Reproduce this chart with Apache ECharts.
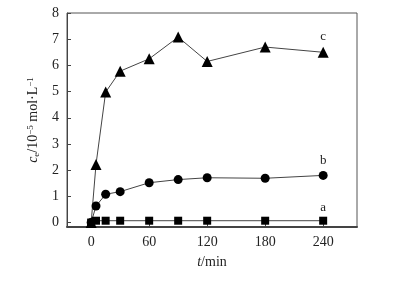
<!DOCTYPE html>
<html>
<head>
<meta charset="utf-8">
<script src="https://cdn.jsdelivr.net/npm/echarts@6/dist/echarts.min.js"></script>
<style>
html,body{margin:0;padding:0;background:#fff;}
#chart{width:393px;height:287px;}
</style>
</head>
<body>
<div id="chart"></div>
<script>
var times = [0, 5, 15, 30, 60, 90, 120, 180, 240];
var seriesA = [0, 0.07, 0.07, 0.07, 0.07, 0.07, 0.07, 0.07, 0.07];
var seriesB = [0, 0.63, 1.08, 1.18, 1.52, 1.64, 1.71, 1.69, 1.80];
var seriesC = [0, 2.22, 4.98, 5.78, 6.25, 7.08, 6.15, 6.70, 6.50];
var xTicks = [0, 60, 120, 180, 240];
var yTicks = [0, 1, 2, 3, 4, 5, 6, 7, 8];
var names = ['a', 'b', 'c'];

var font = 'Liberation Serif';
var ink = '#222';

function pairs(vals, name, dist) {
    return vals.map(function (v, i) {
        var item = { value: [times[i], v] };
        if (i === vals.length - 1) {
            item.label = {
                show: true, position: 'top', distance: dist,
                formatter: name, fontFamily: font, fontSize: 13, color: ink
            };
        }
        return item;
    });
}

function mkSeries(vals, name, symbol, size, dist) {
    return {
        type: 'line',
        name: name,
        data: pairs(vals, name, dist),
        symbol: symbol,
        symbolSize: size,
        showSymbol: true,
        lineStyle: { color: '#444', width: 1 },
        itemStyle: { color: '#000' },
        label: { show: false },
        animation: false
    };
}

var myChart = echarts.init(document.getElementById('chart'));
var option = {
    animation: false,
    grid: {
        left: 67, right: 36, top: 13, bottom: 60,
        show: true, borderColor: '#555', borderWidth: 1
    },
    xAxis: {
        type: 'value',
        min: -25, max: 275,
        name: '{i|t}{n|/min}',
        nameLocation: 'middle',
        nameGap: 28,
        nameTextStyle: {
            rich: {
                i: { fontFamily: font, fontStyle: 'italic', fontSize: 14, color: ink },
                n: { fontFamily: font, fontSize: 14, color: ink }
            }
        },
        axisLine: { onZero: false, lineStyle: { color: '#444', width: 2 } },
        axisTick: { inside: true, length: 4, customValues: xTicks, lineStyle: { color: '#444' } },
        axisLabel: { customValues: xTicks, fontFamily: font, fontSize: 14, color: ink, margin: 8 },
        splitLine: { show: false }
    },
    yAxis: {
        type: 'value',
        min: -0.17, max: 8,
        name: '{i|c}{sub|e}{n|/10}{sup|−5}{n| mol·L}{sup|−1}',
        nameLocation: 'middle',
        nameRotate: 90,
        nameGap: 26,
        nameTextStyle: {
            rich: {
                i: { fontFamily: font, fontStyle: 'italic', fontSize: 14, color: ink },
                n: { fontFamily: font, fontSize: 14, color: ink },
                sub: { fontFamily: font, fontSize: 9, color: ink, verticalAlign: 'bottom', padding: [6, 0, 0, 0] },
                sup: { fontFamily: font, fontSize: 9, color: ink, verticalAlign: 'top', padding: [0, 0, 6, 0] }
            }
        },
        axisLine: { show: true, onZero: false, lineStyle: { color: '#444', width: 1 } },
        axisTick: { show: true, inside: true, length: 4, customValues: yTicks, lineStyle: { color: '#444' } },
        axisLabel: { customValues: yTicks, fontFamily: font, fontSize: 14, color: ink, margin: 8 },
        splitLine: { show: false }
    },
    series: [
        mkSeries(seriesA, names[0], 'rect', 8, 3),
        mkSeries(seriesB, names[1], 'circle', 9, 4),
        mkSeries(seriesC, names[2], 'triangle', 11, 4)
    ]
};
myChart.setOption(option, true);
</script>
</body>
</html>
